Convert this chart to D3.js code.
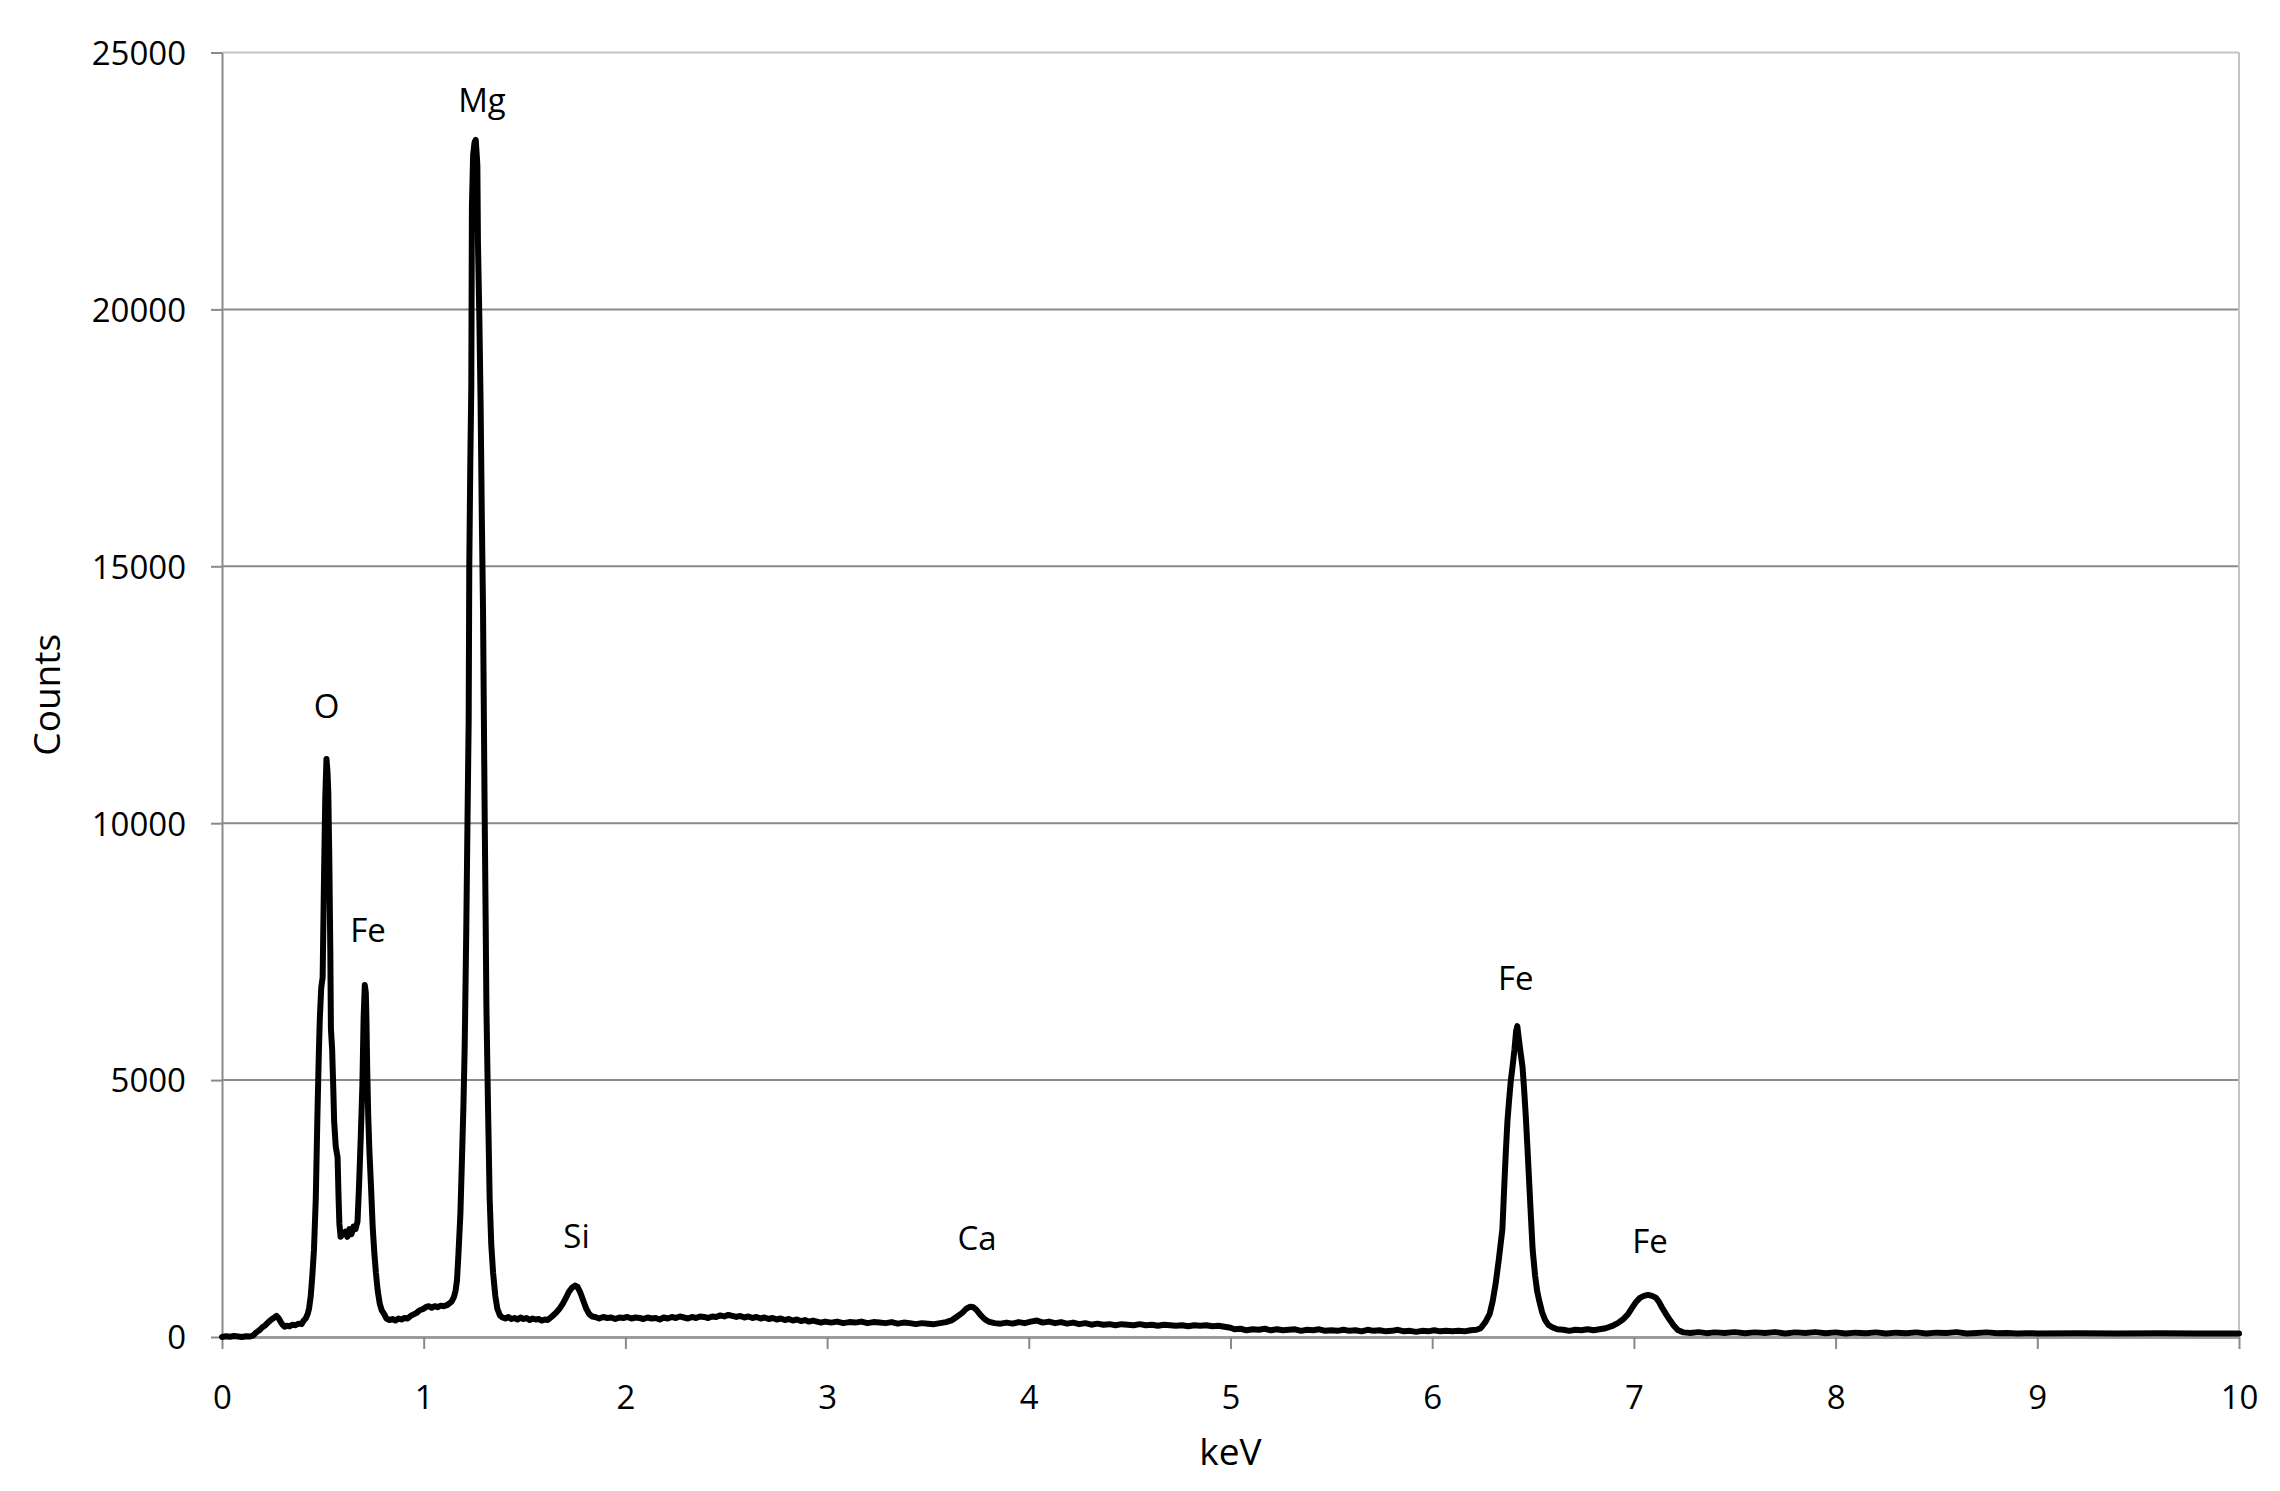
<!DOCTYPE html>
<html>
<head>
<meta charset="utf-8">
<title>EDS spectrum</title>
<script src="https://d3js.org/d3.v7.min.js"></script>
<style>
	body { margin: 0; background: #fff; }
	svg text { font-family: "Open Sans", sans-serif; fill: #000; }
	.grid line { stroke: #8a8a8a; stroke-width: 2; }
	.frame line { stroke: #c4c4c4; stroke-width: 2; }
	.axis path, .axis line { stroke: #8a8a8a; stroke-width: 2; }
	.axis-x path { stroke: #9c9c9c; stroke-width: 3; }
	.spectrum { fill: none; stroke: #000; stroke-width: 6; stroke-linejoin: round; stroke-linecap: round; }
</style>
</head>
<body>
<svg id="fig-spectrum" width="2280" height="1491"></svg>
<script>

// spectrum: [keV, counts]
const spectrum = [
	[0.00, 0], [0.02, 15], [0.04, 5], [0.06, 20], [0.08, 10], [0.10, 0], [0.12, 15], [0.14, 10],
	[0.155, 30], [0.17, 90], [0.185, 130], [0.20, 190], [0.215, 230], [0.23, 290], [0.245, 340],
	[0.26, 380], [0.27, 410], [0.28, 370], [0.29, 300], [0.30, 240], [0.31, 200], [0.32, 220],
	[0.335, 210], [0.35, 240], [0.365, 230], [0.38, 260], [0.395, 250], [0.405, 320], [0.415, 360],
	[0.425, 450], [0.432, 560], [0.440, 800], [0.448, 1200], [0.456, 1700], [0.465, 2700],
	[0.473, 4300], [0.480, 5500], [0.485, 6200], [0.492, 6800], [0.499, 7000], [0.506, 9000],
	[0.512, 10500], [0.518, 11250], [0.523, 11000], [0.527, 10600], [0.532, 9300], [0.537, 7500],
	[0.540, 6000], [0.546, 5600], [0.552, 4800], [0.556, 4200], [0.564, 3700], [0.573, 3500],
	[0.578, 2700], [0.582, 2200], [0.588, 1950], [0.600, 2000], [0.612, 2050], [0.622, 1950],
	[0.632, 2100], [0.642, 2000], [0.652, 2150], [0.662, 2100], [0.672, 2250], [0.680, 3000],
	[0.688, 3900], [0.696, 4900], [0.702, 6200], [0.708, 6850], [0.713, 6700], [0.716, 6200],
	[0.720, 5200], [0.725, 4300], [0.731, 3600], [0.738, 3000], [0.747, 2150], [0.755, 1650],
	[0.763, 1250], [0.772, 900], [0.782, 650], [0.792, 520], [0.805, 440], [0.815, 360],
	[0.83, 330], [0.845, 350], [0.86, 320], [0.875, 360], [0.89, 340], [0.905, 370], [0.92, 360],
	[0.935, 410], [0.95, 440], [0.965, 470], [0.98, 520], [0.995, 540], [1.01, 580], [1.025, 600],
	[1.04, 570], [1.055, 600], [1.07, 580], [1.085, 610], [1.10, 600], [1.115, 620], [1.13, 660],
	[1.140, 700], [1.150, 780], [1.158, 900], [1.165, 1100], [1.172, 1600], [1.182, 2400],
	[1.190, 3500], [1.197, 4500], [1.203, 5600], [1.211, 7900], [1.217, 10000], [1.223, 12000],
	[1.226, 15000], [1.231, 17000], [1.236, 18500], [1.239, 22000], [1.245, 23000], [1.252, 23250],
	[1.258, 23300], [1.263, 23000], [1.266, 22800], [1.269, 21300], [1.276, 19800], [1.282, 18200],
	[1.288, 16000], [1.294, 14200], [1.302, 10300], [1.307, 8200], [1.311, 6400], [1.319, 4450],
	[1.327, 2700], [1.335, 1800], [1.344, 1250], [1.355, 800], [1.365, 550], [1.378, 420],
	[1.39, 380], [1.405, 360], [1.42, 390], [1.435, 350], [1.45, 370], [1.465, 340], [1.48, 380],
	[1.495, 350], [1.51, 370], [1.525, 330], [1.54, 360], [1.555, 340], [1.57, 350], [1.585, 320],
	[1.60, 340], [1.615, 330], [1.63, 380], [1.645, 430], [1.66, 490], [1.675, 560], [1.69, 650],
	[1.705, 760], [1.72, 880], [1.735, 960], [1.75, 1000], [1.762, 980], [1.775, 880], [1.79, 720],
	[1.805, 560], [1.82, 450], [1.835, 400], [1.85, 390], [1.87, 360], [1.89, 390], [1.91, 370],
	[1.93, 380], [1.95, 350], [1.97, 380], [1.99, 370], [2.01, 390], [2.03, 360], [2.05, 380],
	[2.07, 370], [2.09, 350], [2.11, 380], [2.13, 360], [2.15, 370], [2.17, 340], [2.19, 380],
	[2.21, 360], [2.23, 390], [2.25, 370], [2.27, 400], [2.29, 380], [2.31, 360], [2.33, 390],
	[2.35, 370], [2.37, 400], [2.39, 390], [2.41, 370], [2.43, 400], [2.45, 390], [2.47, 420],
	[2.49, 400], [2.51, 430], [2.53, 410], [2.55, 390], [2.57, 410], [2.59, 380], [2.61, 400],
	[2.63, 370], [2.65, 390], [2.67, 360], [2.69, 380], [2.71, 350], [2.73, 370], [2.75, 340],
	[2.77, 360], [2.79, 330], [2.81, 350], [2.83, 320], [2.85, 340], [2.87, 310], [2.89, 330],
	[2.91, 300], [2.93, 320], [2.95, 300], [2.97, 280], [2.99, 300], [3.02, 280], [3.05, 300],
	[3.08, 270], [3.11, 290], [3.14, 280], [3.17, 300], [3.20, 270], [3.23, 290], [3.26, 280],
	[3.29, 270], [3.32, 290], [3.35, 260], [3.38, 280], [3.41, 270], [3.44, 250], [3.47, 270],
	[3.50, 260], [3.53, 250], [3.56, 270], [3.59, 290], [3.62, 330], [3.645, 400], [3.67, 470],
	[3.69, 550], [3.71, 590], [3.725, 580], [3.74, 530], [3.76, 430], [3.78, 350], [3.80, 300],
	[3.83, 270], [3.86, 260], [3.89, 280], [3.92, 260], [3.95, 290], [3.98, 270], [4.01, 300],
	[4.04, 320], [4.07, 280], [4.10, 300], [4.13, 270], [4.16, 290], [4.19, 260], [4.22, 280],
	[4.25, 250], [4.28, 270], [4.31, 240], [4.34, 260], [4.37, 240], [4.40, 250], [4.43, 230],
	[4.46, 250], [4.49, 240], [4.52, 230], [4.55, 250], [4.58, 230], [4.61, 240], [4.64, 220],
	[4.67, 240], [4.70, 230], [4.73, 220], [4.76, 230], [4.79, 210], [4.82, 230], [4.85, 220],
	[4.88, 230], [4.91, 210], [4.94, 220], [4.97, 200], [5.00, 180], [5.02, 150], [5.05, 160],
	[5.08, 130], [5.11, 150], [5.14, 140], [5.17, 160], [5.20, 130], [5.23, 150], [5.26, 130],
	[5.29, 140], [5.32, 150], [5.35, 120], [5.38, 140], [5.41, 130], [5.44, 150], [5.47, 120],
	[5.50, 130], [5.53, 120], [5.56, 140], [5.59, 120], [5.62, 130], [5.65, 110], [5.68, 140],
	[5.71, 120], [5.74, 130], [5.77, 110], [5.80, 120], [5.83, 140], [5.86, 110], [5.89, 120],
	[5.92, 100], [5.95, 120], [5.98, 110], [6.01, 130], [6.04, 110], [6.07, 120], [6.10, 110],
	[6.13, 120], [6.16, 110], [6.19, 130], [6.22, 140], [6.24, 170], [6.265, 300], [6.285, 450],
	[6.300, 700], [6.315, 1050], [6.330, 1500], [6.348, 2100], [6.358, 3000], [6.365, 3600],
	[6.373, 4200], [6.381, 4600], [6.390, 5000], [6.398, 5250], [6.408, 5600], [6.416, 5950],
	[6.422, 6050], [6.428, 5850], [6.436, 5600], [6.448, 5250], [6.456, 4800], [6.464, 4300],
	[6.472, 3700], [6.481, 3000], [6.490, 2300], [6.498, 1700], [6.510, 1200], [6.520, 900],
	[6.531, 700], [6.545, 480], [6.560, 330], [6.575, 240], [6.595, 190], [6.62, 150], [6.65, 140],
	[6.68, 120], [6.71, 140], [6.74, 130], [6.77, 150], [6.80, 130], [6.83, 150], [6.86, 170],
	[6.89, 210], [6.92, 270], [6.945, 340], [6.97, 440], [6.99, 560], [7.01, 680], [7.03, 760],
	[7.05, 800], [7.07, 820], [7.09, 800], [7.11, 760], [7.125, 680], [7.14, 570], [7.16, 440],
	[7.18, 320], [7.20, 210], [7.22, 130], [7.245, 90], [7.28, 80], [7.32, 95], [7.36, 75],
	[7.40, 90], [7.45, 80], [7.50, 95], [7.55, 75], [7.60, 90], [7.65, 80], [7.70, 95], [7.75, 70],
	[7.80, 90], [7.85, 80], [7.90, 95], [7.95, 75], [8.00, 90], [8.05, 70], [8.10, 85], [8.15, 75],
	[8.20, 90], [8.25, 70], [8.30, 85], [8.35, 75], [8.40, 90], [8.45, 70], [8.50, 85], [8.55, 80],
	[8.60, 95], [8.65, 70], [8.70, 80], [8.75, 90], [8.80, 75], [8.85, 80], [8.90, 70], [8.95, 75],
	[9.00, 70], [9.20, 72], [9.40, 70], [9.60, 72], [9.80, 70], [10.00, 70]
];

// element labels written over the peaks
const peakNames = ["O", "Fe", "Mg", "Si", "Ca", "Fe", "Fe"];
const peakKeV = [0.519, 0.724, 1.289, 1.758, 3.743, 6.414, 7.080];
const peakLabelCounts = [12300, 7940, 24080, 1985, 1930, 6990, 1870];

const xTicks = [0, 1, 2, 3, 4, 5, 6, 7, 8, 9, 10];
const yTicks = [0, 5000, 10000, 15000, 20000, 25000];

const xTitle = "keV";
const yTitle = "Counts";

function whenDocumentLoaded(action) {
	if (document.readyState === "loading") {
		document.addEventListener("DOMContentLoaded", action);
	} else {
		action();
	}
}

function drawSpectrum(svg_id) {
	const svg = d3.select('#' + svg_id);

	const left = 222, right = 2239, top = 52.5, bottom = 1337;

	const x = d3.scaleLinear().domain([0, 10]).range([left, right]);
	const y = d3.scaleLinear().domain([0, 25000]).range([bottom, top]);

	// horizontal grid lines (the top one belongs to the light frame)
	svg.append('g')
		.attr('class', 'grid')
		.selectAll('line')
		.data(yTicks.filter(d => d > 0 && d < 25000))
		.join('line')
		.attr('x1', left).attr('x2', right)
		.attr('y1', d => y(d)).attr('y2', d => y(d));

	const frame = svg.append('g').attr('class', 'frame');
	frame.append('line')
		.attr('x1', left).attr('x2', right)
		.attr('y1', y(25000)).attr('y2', y(25000));
	frame.append('line')
		.attr('x1', x(10)).attr('x2', x(10))
		.attr('y1', top).attr('y2', bottom);

	// axes
	const y_axis = svg.append('g')
		.attr('class', 'axis axis-y')
		.attr('transform', `translate(${left},0)`)
		.call(d3.axisLeft(y)
			.tickValues(yTicks)
			.tickSize(11)
			.tickSizeOuter(0)
			.tickPadding(25)
			.tickFormat(d3.format('d')));
	y_axis.attr('font-size', 33).attr('font-family', null);
	y_axis.selectAll('text').attr('dy', '0.36em');

	const x_axis = svg.append('g')
		.attr('class', 'axis axis-x')
		.attr('transform', `translate(0,${bottom})`)
		.call(d3.axisBottom(x)
			.tickValues(xTicks)
			.tickSize(12)
			.tickSizeOuter(0)
			.tickPadding(37)
			.tickFormat(d3.format('d')));
	x_axis.attr('font-size', 33).attr('font-family', null);

	// axis titles
	svg.append('text')
		.attr('x', (left + right) / 2)
		.attr('y', 1465)
		.attr('text-anchor', 'middle')
		.attr('font-size', 37)
		.text(xTitle);

	svg.append('text')
		.attr('transform', `translate(60,${(top + bottom) / 2}) rotate(-90)`)
		.attr('text-anchor', 'middle')
		.attr('font-size', 37)
		.text(yTitle);

	// the spectrum itself
	const line_generator = d3.line()
		.x(d => x(d[0]))
		.y(d => y(d[1]));

	svg.append('path')
		.datum(spectrum)
		.attr('class', 'spectrum')
		.attr('d', line_generator);

	// peak labels
	svg.append('g')
		.selectAll('text')
		.data(peakNames)
		.join('text')
		.attr('x', (d, i) => x(peakKeV[i]))
		.attr('y', (d, i) => y(peakLabelCounts[i]))
		.attr('text-anchor', 'middle')
		.attr('dominant-baseline', 'central')
		.attr('font-size', 33)
		.text(d => d);
}

whenDocumentLoaded(() => {
	drawSpectrum('fig-spectrum');
});
</script>
</body>
</html>
